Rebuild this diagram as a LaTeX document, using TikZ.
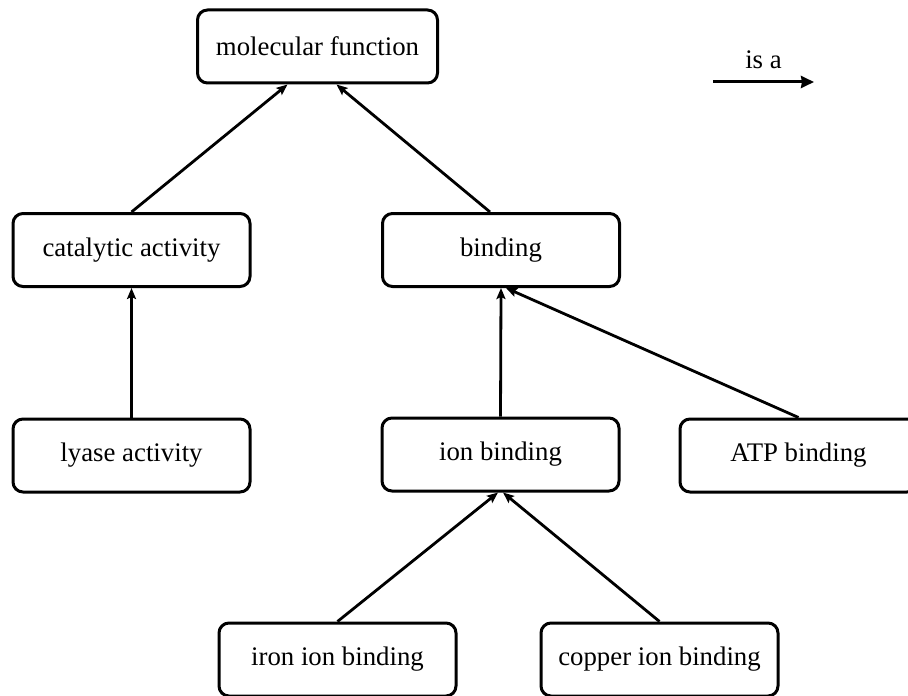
\documentclass[tikz,border=0pt]{standalone}
\usepackage{fontspec}
\setmainfont{Liberation Serif}
\usetikzlibrary{arrows.meta,calc}
\begin{document}
\begin{tikzpicture}[x=0.5pt,y=-0.5pt,
  termbox/.style={draw=black,line width=1.5pt,rounded corners=5pt,fill=white,
    minimum width=118.5pt,minimum height=36.5pt,inner sep=0pt,
    font=\fontsize{13.4pt}{15pt}\selectfont},
  isa/.style={line width=1.4pt,-{Stealth[length=5.5pt,width=4.5pt,inset=1pt]}},
  legendarrow/.style={line width=1.5pt,-{Stealth[length=6.5pt,width=6pt,inset=0.5pt]}}]
\clip (0,0) rectangle (908,695);
\fill[white] (0,0) rectangle (908,695);
\node[termbox,minimum width=120pt] (mf) at (317.5,46.5) {molecular function};
\node[termbox] (cat) at (131.5,250) {catalytic activity};
\node[termbox] (bind) at (501,250) {binding};
\node[termbox] (lyase) at (131.5,455.5) {lyase activity};
\node[termbox] (ion) at (500.5,454.5) {ion binding};
\node[termbox] (atp) at (798.5,455.5) {ATP binding};
\node[termbox] (iron) at (337.5,659.5) {iron ion binding};
\node[termbox] (copper) at (659.5,659.5) {copper ion binding};
\draw[isa] (cat.north) -- ($(mf.south)+(-30,0)$);
\draw[isa] ($(bind.north)+(-11,0)$) -- ($(mf.south)+(19,0)$);
\draw[isa] (lyase.north) -- (cat.south);
\draw[isa] (ion.north) -- (bind.south);
\draw[isa] (atp.north) -- ($(bind.south)+(5,0)$);
\draw[isa] (iron.north) -- ($(ion.south)+(-2.5,0)$);
\draw[isa] (copper.north) -- ($(ion.south)+(2.5,0)$);
\coordinate (ls) at (713,82);
\coordinate (le) at (814,82);
\draw[legendarrow] (ls) -- node[above=5pt,inner sep=1pt,font=\fontsize{13.4pt}{15pt}\selectfont] (isalabel) {is a} (le);
\end{tikzpicture}
\end{document}
